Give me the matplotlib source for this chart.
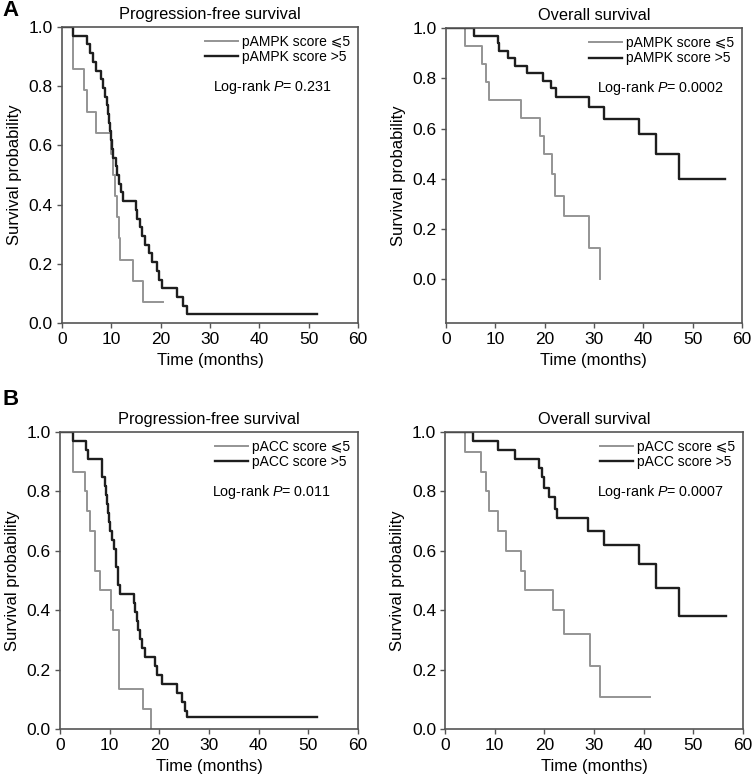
import matplotlib
matplotlib.use('Agg')
import matplotlib.pyplot as plt

plt.rcParams['font.family'] = ['Liberation Sans', 'DejaVu Sans']
plt.rcParams['mathtext.fontset'] = 'custom'
plt.rcParams['mathtext.rm'] = 'Liberation Sans'
plt.rcParams['mathtext.it'] = 'Liberation Sans:italic'

# Kaplan-Meier step curves: event times (months) and survival after each step
# A, PFS, pAMPK
a_pfs_low_t = [0, 2.2, 4.5, 5.1, 7.0, 10.0, 10.3, 10.7, 11.2, 11.5, 11.8, 14.5, 16.5, 20.4]
a_pfs_low_s = [1.0, 0.857, 0.786, 0.714, 0.643, 0.571, 0.5, 0.429, 0.357, 0.286, 0.214, 0.143, 0.071, 0.071]
a_pfs_high_t = [0, 2.2, 5.1, 5.6, 6.2, 7.0, 8.0, 8.4, 8.8, 9.1, 9.3, 9.5, 9.7, 9.9, 10.1, 10.4, 10.9,
                11.2, 11.6, 12.0, 12.4, 15.0, 15.3, 15.8, 16.3, 16.8, 17.6, 18.3, 19.3, 19.7, 20.2,
                23.4, 24.6, 25.3, 51.6]
a_pfs_high_s = [1.0, 0.971, 0.941, 0.912, 0.882, 0.853, 0.824, 0.794, 0.765, 0.735, 0.706, 0.676, 0.647,
                0.618, 0.588, 0.559, 0.529, 0.5, 0.471, 0.441, 0.412, 0.382, 0.353, 0.324, 0.294, 0.265,
                0.235, 0.206, 0.176, 0.147, 0.118, 0.088, 0.059, 0.029, 0.029]

# A, OS, pAMPK
a_os_low_t = [0, 3.9, 7.3, 8.1, 8.8, 15.2, 19.1, 19.9, 21.4, 22.1, 23.9, 29.1, 31.3]
a_os_low_s = [1.0, 0.929, 0.857, 0.786, 0.714, 0.643, 0.571, 0.5, 0.417, 0.333, 0.25, 0.125, 0.0]
a_os_high_t = [0, 5.7, 10.5, 10.8, 12.5, 14.0, 16.4, 19.6, 21.3, 22.3, 28.9, 32.1, 39.2, 42.6, 47.3, 56.6]
a_os_high_s = [1.0, 0.97, 0.94, 0.91, 0.88, 0.85, 0.82, 0.79, 0.76, 0.727, 0.685, 0.64, 0.58, 0.5, 0.4, 0.4]

# B, PFS, pACC
b_pfs_low_t = [0, 2.55, 5.0, 5.4, 6.0, 7.0, 8.1, 10.3, 10.7, 11.9, 16.8, 18.3]
b_pfs_low_s = [1.0, 0.867, 0.8, 0.733, 0.667, 0.533, 0.467, 0.4, 0.333, 0.133, 0.067, 0.0]
b_pfs_high_t = [0, 2.55, 5.2, 5.7, 8.4, 9.1, 9.3, 9.5, 9.7, 9.9, 10.1, 10.5, 10.9, 11.3, 11.6, 12.1,
                14.8, 15.1, 15.4, 15.8, 16.1, 16.5, 17.2, 19.1, 19.6, 20.5, 23.5, 24.5, 25.2, 25.5, 51.7]
b_pfs_high_s = [1.0, 0.97, 0.94, 0.91, 0.85, 0.818, 0.788, 0.758, 0.727, 0.697, 0.667, 0.636, 0.606,
                0.545, 0.485, 0.455, 0.424, 0.394, 0.364, 0.333, 0.303, 0.273, 0.242, 0.212, 0.182,
                0.152, 0.121, 0.091, 0.061, 0.04, 0.04]

# B, OS, pACC
b_os_low_t = [0, 4.1, 7.3, 8.3, 8.8, 10.6, 12.3, 15.3, 16.2, 21.7, 23.9, 29.1, 31.3, 41.2]
b_os_low_s = [1.0, 0.933, 0.867, 0.8, 0.733, 0.667, 0.6, 0.533, 0.467, 0.4, 0.32, 0.213, 0.107, 0.107]
b_os_high_t = [0, 5.6, 10.6, 14.1, 19.0, 19.5, 19.9, 21.0, 22.2, 22.5, 28.8, 32.0, 39.0, 42.4, 47.2, 56.5]
b_os_high_s = [1.0, 0.97, 0.94, 0.91, 0.88, 0.85, 0.81, 0.78, 0.74, 0.71, 0.667, 0.62, 0.557, 0.476, 0.381, 0.381]

panels = [
    # rect, title, marker, low, high, p-value, ymin
    ([0.0824, 0.5848, 0.3936, 0.3805], 'Progression-free survival', 'pAMPK',
     (a_pfs_low_t, a_pfs_low_s), (a_pfs_high_t, a_pfs_high_s), '0.231', 0.0),
    ([0.5930, 0.5848, 0.3936, 0.3790], 'Overall survival', 'pAMPK',
     (a_os_low_t, a_os_low_s), (a_os_high_t, a_os_high_s), '0.0002', -0.175),
    ([0.0798, 0.0630, 0.3963, 0.3817], 'Progression-free survival', 'pACC',
     (b_pfs_low_t, b_pfs_low_s), (b_pfs_high_t, b_pfs_high_s), '0.011', 0.0),
    ([0.5918, 0.0630, 0.3963, 0.3817], 'Overall survival', 'pACC',
     (b_os_low_t, b_os_low_s), (b_os_high_t, b_os_high_s), '0.0007', 0.0),
]

gray = '#949494'
dark = '#1e1e1e'
spine_col = '#555555'

fig = plt.figure(figsize=(7.52, 7.78), dpi=100)

for rect, title, marker, low, high, pval, ymin in panels:
    ax = fig.add_axes(rect)
    ax.step(low[0], low[1], where='post', color=gray, lw=1.4,
            label=f'{marker} score \u2a7d5')
    ax.step(high[0], high[1], where='post', color=dark, lw=1.7,
            label=f'{marker} score >5')
    ax.set_xlim(0, 60)
    ax.set_ylim(ymin, 1.0)
    ax.set_xticks(range(0, 61, 10))
    ax.set_yticks([0.0, 0.2, 0.4, 0.6, 0.8, 1.0])
    ax.set_yticklabels(['0.0', '0.2', '0.4', '0.6', '0.8', '1.0'])
    ax.tick_params(labelsize=12.5, color=spine_col, length=3.5, width=1, pad=3)
    for s in ax.spines.values():
        s.set_color(spine_col)
        s.set_linewidth(1.2)
    ax.set_title(title, fontsize=11.8, pad=6)
    ax.set_xlabel('Time (months)', fontsize=12, labelpad=4)
    ax.set_ylabel('Survival probability', fontsize=12, labelpad=5)
    ax.legend(loc='upper right', frameon=False, fontsize=10, handlelength=2.4,
              handletextpad=0.3, borderaxespad=0.2, labelspacing=0.12,
              borderpad=0.35)
    ax.text(0.51, 0.797, f'Log-rank $P$= {pval}', transform=ax.transAxes,
            fontsize=10.3, va='center', ha='left')

fig.text(0.003, 0.987, 'A', fontsize=16, fontweight='bold', va='center', ha='left')
fig.text(0.003, 0.487, 'B', fontsize=16, fontweight='bold', va='center', ha='left')

fig.savefig('out.png', dpi=100)
